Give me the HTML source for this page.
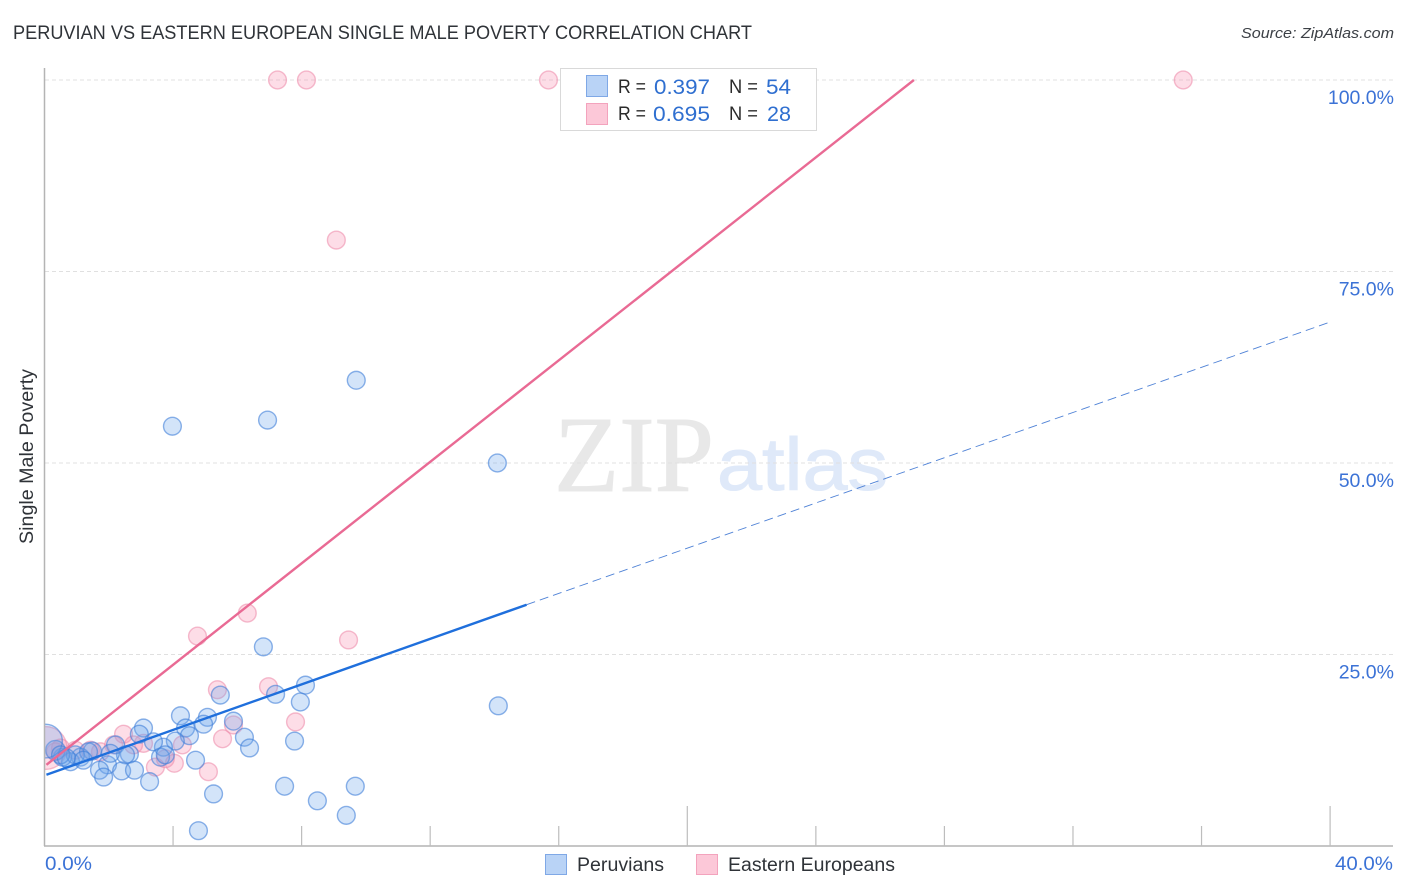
<!DOCTYPE html>
<html lang="en">
<head>
<meta charset="utf-8">
<title>Peruvian vs Eastern European Single Male Poverty Correlation Chart</title>
<style>
html,body{margin:0;padding:0;background:#fff;width:1406px;height:892px;overflow:hidden}
svg{display:block;font-family:"Liberation Sans",Arial,sans-serif}
</style>
</head>
<body>
<svg id="chart" width="1406" height="892" viewBox="0 0 1406 892" xmlns="http://www.w3.org/2000/svg">
  <text x="13" y="39" font-size="19" fill="#2f3338" textLength="739" lengthAdjust="spacingAndGlyphs">PERUVIAN VS EASTERN EUROPEAN SINGLE MALE POVERTY CORRELATION CHART</text>
  <text x="1241" y="38" font-size="15" font-style="italic" fill="#3c4046" textLength="153" lengthAdjust="spacingAndGlyphs">Source: ZipAtlas.com</text>
  <g>
    <text x="554" y="491" font-family="'Liberation Serif',serif" font-size="108" fill="#e8e8e8" stroke="#e8e8e8" stroke-width="1" textLength="160" lengthAdjust="spacingAndGlyphs">ZIP</text>
    <text x="717" y="490" font-size="74" fill="#dfe9f9" stroke="#dfe9f9" stroke-width="1" textLength="171" lengthAdjust="spacingAndGlyphs">atlas</text>
  </g>
  <g id="grid"></g>
  <svg x="45" y="60" width="1350" height="786" viewBox="45 60 1350 786" overflow="hidden">
    <g id="marks"></g>
  </svg>
  <g id="axes"></g>
  <g id="trends"></g>
  <g id="labels"></g>
  <text transform="translate(33,544) rotate(-90)" font-size="19" fill="#2f3338" textLength="175" lengthAdjust="spacingAndGlyphs">Single Male Poverty</text>

  <g>
    <rect x="560.5" y="68.5" width="256" height="62" fill="#fff" stroke="#d9d9d9"/>
    <rect x="586.5" y="75.5" width="21" height="21" fill="#b9d3f6" stroke="#7fa8e6"/>
    <rect x="586.5" y="103.5" width="21" height="21" fill="#fcc8d8" stroke="#f3a3bd"/>
    <text x="618" y="93" font-size="19" fill="#2b2b2b" textLength="28" lengthAdjust="spacingAndGlyphs">R =</text>
    <text x="654" y="94" font-size="21" fill="#2f6fd0" textLength="56" lengthAdjust="spacingAndGlyphs">0.397</text>
    <text x="729" y="93" font-size="19" fill="#2b2b2b" textLength="29" lengthAdjust="spacingAndGlyphs">N =</text>
    <text x="766" y="94" font-size="21" fill="#2f6fd0" textLength="25" lengthAdjust="spacingAndGlyphs">54</text>
    <text x="618" y="120" font-size="19" fill="#2b2b2b" textLength="28" lengthAdjust="spacingAndGlyphs">R =</text>
    <text x="653" y="121" font-size="21" fill="#2f6fd0" textLength="57" lengthAdjust="spacingAndGlyphs">0.695</text>
    <text x="729" y="120" font-size="19" fill="#2b2b2b" textLength="29" lengthAdjust="spacingAndGlyphs">N =</text>
    <text x="767" y="121" font-size="21" fill="#2f6fd0" textLength="24" lengthAdjust="spacingAndGlyphs">28</text>
  </g>

  <g>
    <rect x="545.5" y="854.5" width="21" height="20" fill="#b9d3f6" stroke="#7fa8e6"/>
    <text x="577" y="871" font-size="19" fill="#2f3338" textLength="87" lengthAdjust="spacingAndGlyphs">Peruvians</text>
    <rect x="696.5" y="854.5" width="21" height="20" fill="#fcc8d8" stroke="#f3a3bd"/>
    <text x="728" y="871" font-size="19" fill="#2f3338" textLength="167" lengthAdjust="spacingAndGlyphs">Eastern Europeans</text>
  </g>
</svg>
<script>
const xTicks = [0, 4, 8, 12, 16, 20, 24, 28, 32, 36, 40];
const xMajorTicks = [20, 40];
const xTickLabels = ["0.0%", "40.0%"];
const xTickLabelValues = [0, 40];
const yTicks = [25, 50, 75, 100];
const yTickLabels = ["25.0%", "50.0%", "75.0%", "100.0%"];

const peruvianX = [3.98,6.94,9.70,14.09,14.12,6.81,8.12,7.19,7.96,5.47,5.07,4.23,3.08,4.95,4.39,4.51,5.88,6.22,6.38,7.78,4.07,3.70,3.39,2.95,2.21,2.64,2.52,3.61,3.76,4.70,1.96,1.71,1.84,2.40,2.80,3.27,5.26,7.47,8.49,9.67,9.39,4.79,1.49,1.12,0.81,0.56,0.34,0.03,0.96,1.37,2.05,0.50,1.21,0.68];
const peruvianY = [54.8,55.6,60.8,50.0,18.3,26.0,21.0,19.8,18.8,19.7,16.8,17.0,15.4,15.9,15.4,14.4,16.3,14.2,12.8,13.7,13.7,12.9,13.6,14.6,13.2,12.0,11.9,11.6,11.9,11.2,10.6,9.9,9.0,9.8,9.9,8.4,6.8,7.8,5.9,7.8,4.0,2.0,12.4,11.6,11.0,11.6,12.5,13.7,11.9,12.3,12.1,11.9,11.2,11.5];
const peruvianWeight = [1,1,1,1,1,1,1,1,1,1,1,1,1,1,1,1,1,1,1,1,1,1,1,1,1,1,1,1,1,1,1,1,1,1,1,1,1,1,1,1,1,1,1,1,1,1,1.2,3.6,1,1,1,1,1,1];

const easternX = [7.25,8.15,15.68,35.43,9.08,6.31,4.76,9.46,5.38,6.97,7.81,5.88,5.54,2.46,3.08,2.15,2.77,4.29,3.45,4.04,3.76,5.10,1.43,0.96,0.50,0.03,1.74,0.34];
const easternY = [100,100,100,100,79.1,30.4,27.4,26.9,20.4,20.8,16.2,15.8,14.0,14.6,13.4,13.2,13.2,13.2,10.3,10.8,11.4,9.7,12.5,12.5,12.8,12.8,12.3,12.3];
const easternWeight = [1,1,1,1,1,1,1,1,1,1,1,1,1,1,1,1,1,1,1,1,1,1,1,1,1,5.8,1,1];

const peruvianTrendSolidX = [0.06, 15.0];
const peruvianTrendSolidY = [9.3, 31.5];
const peruvianTrendDashX = [15.0, 40.0];
const peruvianTrendDashY = [31.5, 68.4];
const easternTrendX = [0.06, 27.05];
const easternTrendY = [10.6, 100];

const NS = "http://www.w3.org/2000/svg";
const plotLeft = 44.5, plotBottom = 846, xPxPerUnit = 32.14, yPxPerUnit = 7.66;
function xScale(v) { return plotLeft + v * xPxPerUnit; }
function yScale(v) { return plotBottom - v * yPxPerUnit; }
function rScale(w) { return 8.9 * Math.sqrt(w); }
function make(tag, parent, attrs) {
  const el = document.createElementNS(NS, tag);
  for (const k in attrs) el.setAttribute(k, attrs[k]);
  parent.appendChild(el);
  return el;
}

const grid = document.getElementById("grid");
yTicks.forEach(function (t) {
  const el = make("line", grid, {x1: 45, x2: 1393, y1: yScale(t), y2: yScale(t), stroke: "#e0e0e0", "stroke-width": 1, "stroke-dasharray": "4 3"});
  
  
});

const axes = document.getElementById("axes");
const yAxis = make("line", axes, {x1: 44.5, x2: 44.5, y1: 68, y2: 846, stroke: "#b4b4b4", "stroke-width": 1.5});


const xAxis = make("line", axes, {x1: 44, x2: 1393, y1: 846, y2: 846, stroke: "#b4b4b4", "stroke-width": 1.5});


xTicks.forEach(function (t) {
  if (t === 0) return;
  const top = xMajorTicks.indexOf(t) >= 0 ? 806 : 826;
  const el = make("line", axes, {x1: xScale(t), x2: xScale(t), y1: top, y2: 846, stroke: "#bdbdbd", "stroke-width": 1.2});
  
  
});

const marks = document.getElementById("marks");
function drawPoints(xs, ys, ws, fill, stroke, name) {
  xs.forEach(function (x, i) {
    const c = make("circle", marks, {cx: xScale(x), cy: yScale(ys[i]), r: rScale(ws[i]), fill: fill, "fill-opacity": 0.3, stroke: stroke, "stroke-opacity": 0.6, "stroke-width": 1.4});
    
    
  });
}
drawPoints(easternX, easternY, easternWeight, "#f78fb0", "#ee8fae", "point-eastern-european");
drawPoints(peruvianX, peruvianY, peruvianWeight, "#6ea6ea", "#3f7fd8", "point-peruvian");

const trends = document.getElementById("trends");
const easternLine = make("line", trends, {x1: xScale(easternTrendX[0]), y1: yScale(easternTrendY[0]), x2: xScale(easternTrendX[1]), y2: yScale(easternTrendY[1]), stroke: "#e96a94", "stroke-width": 2.4});


const peruvianSolid = make("line", trends, {x1: xScale(peruvianTrendSolidX[0]), y1: yScale(peruvianTrendSolidY[0]), x2: xScale(peruvianTrendSolidX[1]), y2: yScale(peruvianTrendSolidY[1]), stroke: "#1f6fdc", "stroke-width": 2.4});


const peruvianDash = make("line", trends, {x1: xScale(peruvianTrendDashX[0]), y1: yScale(peruvianTrendDashY[0]), x2: xScale(peruvianTrendDashX[1]), y2: yScale(peruvianTrendDashY[1]), stroke: "#4f82d6", "stroke-width": 0.9, "stroke-dasharray": "9 5"});



const labels = document.getElementById("labels");
yTickLabels.forEach(function (txt, i) {
  const t = make("text", labels, {x: 1394, y: yScale(yTicks[i]) + 24, "text-anchor": "end", "font-size": 19.5, fill: "#3b72d6"});
  t.textContent = txt;
  
  
});
xTickLabels.forEach(function (txt, i) {
  const atEnd = xTickLabelValues[i] === 40;
  const t = make("text", labels, {x: atEnd ? 1335 : 45, y: 870, "font-size": 19.5, fill: "#3b72d6", textLength: atEnd ? 58 : 47, lengthAdjust: "spacingAndGlyphs"});
  t.textContent = txt;
  
  
});
</script>
</body>
</html>
